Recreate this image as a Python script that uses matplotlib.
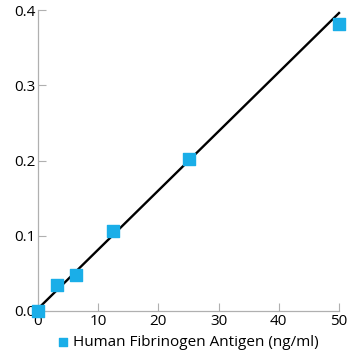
import matplotlib.pyplot as plt

plt.rcParams['font.family'] = ['Open Sans', 'DejaVu Sans']

# Standard curve points
conc = [0, 3.125, 6.25, 12.5, 25, 50]
od = [0.0, 0.034, 0.048, 0.106, 0.202, 0.382]

# fitted line as drawn in the reference
fit_x = [0, 50]
fit_y = [0.003, 0.396]

xticks = [0, 10, 20, 30, 40, 50]
yticks = [0.0, 0.1, 0.2, 0.3, 0.4]

fig = plt.figure(figsize=(3.6, 3.6), dpi=100)
ax = fig.add_axes([38 / 360, 1 - 311 / 360, 301 / 360, 301 / 360])

ax.plot(fit_x, fit_y, color='black', lw=1.7, zorder=2, clip_on=False)
ax.scatter(conc, od, marker='s', s=65, color='#1aaee8', zorder=3,
           label='Human Fibrinogen Antigen (ng/ml)', clip_on=False)

ax.set_xlim(0, 50)
ax.set_ylim(0, 0.4)
ax.set_xticks(xticks)
ax.set_yticks(yticks)
ax.set_yticklabels([f'{v:.1f}' for v in yticks])

for s in ['top', 'right']:
    ax.spines[s].set_visible(False)
for s in ['left', 'bottom']:
    ax.spines[s].set_color('#b0b0b0')
    ax.spines[s].set_linewidth(0.9)
ax.tick_params(direction='in', length=6, color='#b0b0b0', labelsize=11,
               labelcolor='black', pad=2)

ax.legend(loc='upper center', bbox_to_anchor=(0.482, -0.055), frameon=False,
          fontsize=11, handletextpad=-0.3, markerscale=0.75, borderpad=0)

fig.savefig('out.png', dpi=100)
